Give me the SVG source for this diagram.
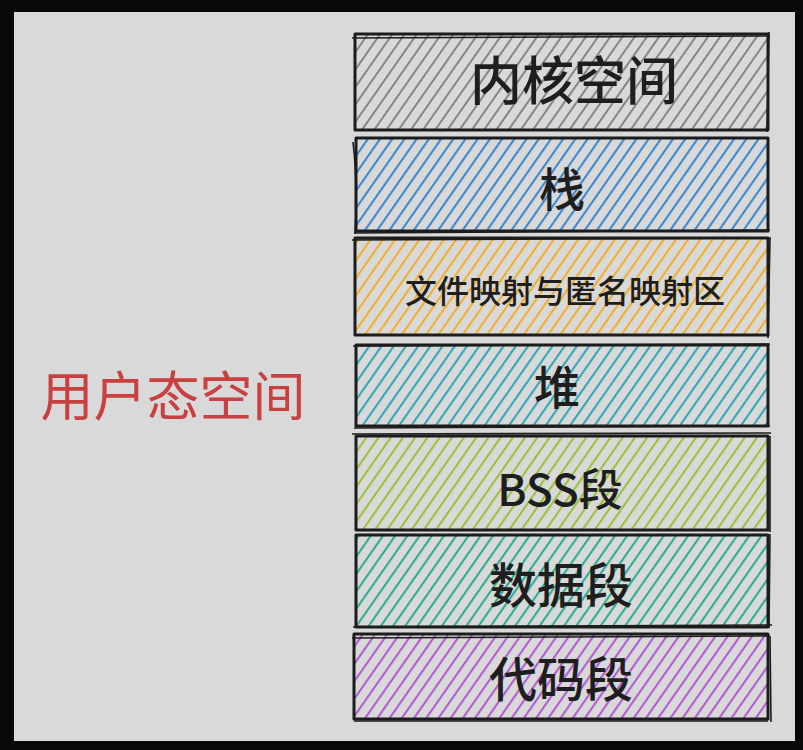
<svg xmlns="http://www.w3.org/2000/svg" width="803" height="750" viewBox="0 0 803 750">
<style>
.box{stroke:#1c1c1c;stroke-width:3;stroke-linejoin:round}
.sk{fill:none;stroke:#1c1c1c;stroke-width:1.6}
.t{font-family:"Noto Sans CJK SC","Noto Sans",sans-serif;fill:#1e1e1e;text-anchor:middle;font-weight:500}
</style>
<defs>
<pattern id="hGray" width="10" height="10" patternUnits="userSpaceOnUse" patternTransform="rotate(35)"><line x1="1" y1="0" x2="1" y2="10" stroke="#7d7d7d" stroke-width="1.8"/></pattern>
<pattern id="hBlue" width="10" height="10" patternUnits="userSpaceOnUse" patternTransform="rotate(35)"><line x1="1" y1="0" x2="1" y2="10" stroke="#3f88d0" stroke-width="2.2"/></pattern>
<pattern id="hOrange" width="10" height="10" patternUnits="userSpaceOnUse" patternTransform="rotate(35)"><line x1="1" y1="0" x2="1" y2="10" stroke="#efb030" stroke-width="2.2"/></pattern>
<pattern id="hTeal" width="10" height="10" patternUnits="userSpaceOnUse" patternTransform="rotate(35)"><line x1="1" y1="0" x2="1" y2="10" stroke="#32a8b8" stroke-width="2.2"/></pattern>
<pattern id="hLime" width="10" height="10" patternUnits="userSpaceOnUse" patternTransform="rotate(35)"><line x1="1" y1="0" x2="1" y2="10" stroke="#9cc23c" stroke-width="2.2"/></pattern>
<pattern id="hGreen" width="10" height="10" patternUnits="userSpaceOnUse" patternTransform="rotate(35)"><line x1="1" y1="0" x2="1" y2="10" stroke="#2eae92" stroke-width="2.2"/></pattern>
<pattern id="hPurple" width="10" height="10" patternUnits="userSpaceOnUse" patternTransform="rotate(35)"><line x1="1" y1="0" x2="1" y2="10" stroke="#b25ed2" stroke-width="2.2"/></pattern>
</defs>
<rect x="0" y="0" width="803" height="750" fill="#080808"/>
<rect x="14" y="12" width="781" height="729" fill="#d9d9d9"/>

<g id="user-space-label">
<text x="173" y="416" font-family="'Noto Sans CJK SC',sans-serif" font-size="53" fill="#c8403f" text-anchor="middle">用户态空间</text>
</g>

<g id="kernel">
<rect class="box" x="355" y="34" width="413" height="96" fill="url(#hGray)"/>
<path class="sk" d="M352 38 L770 36 M769 32 L767 132"/>
<text class="t" x="574" y="100" font-size="52">内核空间</text>
</g>

<g id="stack">
<rect class="box" x="356" y="138" width="412" height="93" fill="url(#hBlue)"/>
<path class="sk" d="M353 142 Q358 185 355 234 M354 233 L770 230"/>
<text class="t" x="562" y="206" font-size="46">栈</text>
</g>

<g id="mmap">
<rect class="box" x="355" y="238" width="413" height="97" fill="url(#hOrange)"/>
<path class="sk" d="M352 240 L771 238 M770 238 L768 338"/>
<text class="t" x="565" y="303" font-size="32">文件映射与匿名映射区</text>
</g>

<g id="heap">
<rect class="box" x="356" y="345" width="412" height="81" fill="url(#hTeal)"/>
<path class="sk" d="M353 346 L770 344 M354 428 L770 426"/>
<text class="t" x="557" y="404" font-size="46">堆</text>
</g>

<g id="bss">
<rect class="box" x="356" y="436" width="412" height="94" fill="url(#hLime)"/>
<path class="sk" d="M352 434 L771 433 M770 436 L770 532"/>
<text class="t" x="560" y="506" font-size="44">BSS段</text>
</g>

<g id="data">
<rect class="box" x="356" y="535" width="412" height="92" fill="url(#hGreen)"/>
<path class="sk" d="M353 627 L772 625 M770 534 L769 628"/>
<text class="t" x="561" y="603" font-size="48">数据段</text>
</g>

<g id="code">
<rect class="box" x="354" y="634" width="414" height="85" fill="url(#hPurple)"/>
<path class="sk" d="M352 638 L770 636 M770 636 L771 722 M354 721 L768 721"/>
<text class="t" x="561" y="697" font-size="48">代码段</text>
</g>
</svg>
